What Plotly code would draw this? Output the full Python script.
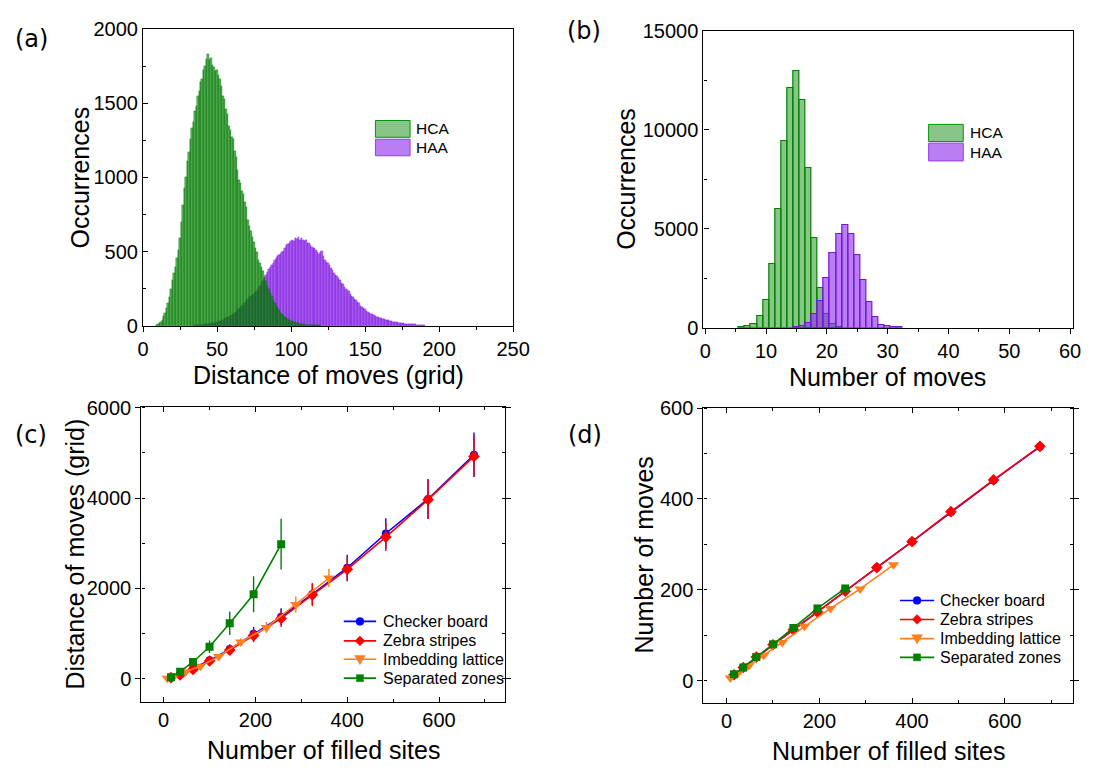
import plotly.graph_objects as go

W, H = 1101, 773
FONT = "Liberation Sans, Arial, sans-serif"

# ---------------- data ----------------
# (a) histogram of distance of moves (bin width 1 grid)
hca_dist_start = 9
hca_dist = [3, 8, 15, 26, 40, 62, 88, 118, 152, 196,
            250, 305, 352, 398, 455, 512, 590, 700, 815, 930,
            1005, 1110, 1170, 1255, 1335, 1370, 1445, 1480, 1550, 1585,
            1645, 1660, 1725, 1750, 1795, 1830, 1790, 1805, 1760, 1745,
            1720, 1725, 1690, 1660, 1615, 1550, 1530, 1460, 1430, 1345,
            1320, 1270, 1255, 1180, 1140, 1050, 985, 965, 910, 885,
            835, 800, 715, 675, 640, 600, 565, 525, 495, 445,
            425, 395, 365, 330, 300, 268, 248, 218, 198, 172,
            150, 134, 116, 104, 88, 76, 67, 57, 48, 42,
            37, 33, 29, 26, 22, 19, 16, 14, 12, 10,
            8, 7, 6, 5, 4, 3, 3, 2, 2, 2,
            1, 1]
haa_dist_start = 35
haa_dist = [2, 3, 3, 4, 5, 6, 7, 8, 10, 11,
            13, 15, 17, 19, 21, 24, 26, 30, 34, 38,
            43, 48, 53, 60, 66, 72, 78, 86, 94, 102,
            112, 122, 132, 142, 155, 165, 178, 190, 200, 208,
            216, 224, 232, 248, 265, 282, 300, 318, 340, 362,
            380, 396, 410, 425, 440, 455, 468, 478, 486, 495,
            505, 525, 545, 552, 558, 568, 578, 572, 590, 585,
            595, 578, 592, 580, 570, 575, 555, 560, 545, 532,
            520, 525, 512, 495, 485, 498, 503, 470, 445, 430,
            425, 410, 390, 372, 355, 342, 335, 322, 305, 290,
            278, 262, 250, 240, 232, 215, 200, 190, 180, 170,
            160, 150, 132, 124, 118, 112, 100, 92, 86, 80,
            75, 71, 66, 60, 56, 52, 48, 45, 42, 40,
            37, 35, 32, 29, 27, 26, 24, 22, 21, 20,
            18, 16, 14, 12, 11, 10, 10, 9, 9, 8,
            7, 6, 4, 3, 2, 1]

# (b) histogram of number of moves
hca_moves_n = [6, 7, 8, 9, 10, 11, 12, 13, 14, 15, 16, 17, 18, 19, 20, 21, 22]
hca_moves = [10, 65, 196, 570, 1420, 3200, 5980, 9440, 12140, 13000, 11520, 8070, 4510, 2010, 690, 180, 40]
haa_moves_n = [15, 16, 17, 18, 19, 20, 21, 22, 23, 24, 25, 26, 27, 28, 29, 30, 31, 32]
haa_moves = [15, 80, 245, 670, 1370, 2530, 3790, 4740, 5180, 4740, 3680, 2390, 1310, 555, 114, 65, 30, 8]

# (c), (d) versus number of filled sites
series_names = ["Checker board", "Zebra stripes", "Imbedding lattice", "Separated zones"]
series_colors = ["#0000ff", "#ff0000", "#ff7f1e", "#008000"]
series_symbols = ["circle", "diamond", "triangle-down", "square"]

cb_sites = [16, 36, 64, 100, 144, 196, 256, 324, 400, 484, 576, 676]
zs_sites = [16, 36, 64, 100, 144, 196, 256, 324, 400, 484, 576, 676]
il_sites = [8, 24, 48, 80, 120, 168, 224, 288, 360]
sz_sites = [16, 36, 64, 100, 144, 196, 256]

cb_dist = [28, 99, 228, 407, 656, 993, 1372, 1871, 2457, 3215, 3979, 4958]
cb_dist_err = [15, 30, 50, 70, 100, 150, 190, 240, 290, 340, 440, 490]
zs_dist = [25, 84, 206, 392, 634, 956, 1336, 1857, 2422, 3136, 3964, 4922]
zs_dist_err = [15, 30, 50, 70, 100, 150, 190, 250, 270, 310, 430, 450]
il_dist = [10, 71, 156, 278, 493, 814, 1136, 1642, 2229]
il_dist_err = [5, 15, 25, 40, 60, 80, 120, 180, 200]
sz_dist = [35, 156, 371, 707, 1228, 1871, 2979]
sz_dist_err = [15, 35, 70, 140, 260, 400, 560]

cb_moves = [13, 29, 52, 79, 112, 152, 198, 249, 306, 371, 441, 515]
zs_moves = [13, 29, 52, 79, 112, 151, 197, 249, 306, 372, 442, 516]
il_moves = [6, 16, 33, 56, 84, 120, 159, 202, 255]
sz_moves = [14, 29, 52, 80, 116, 159, 203]

# ---------------- helpers ----------------
def px(p):
    return p / W


def py(p):
    return 1 - p / H


GREEN_FILL = "rgba(0,135,0,0.6)"
GREEN_LINE = "rgba(0,115,0,0.9)"
PURP_FILL = "rgba(140,40,235,0.65)"
PURP_LINE = "rgba(120,20,220,0.9)"
MSIZE = [8, 9, 10, 8]

fig = go.Figure()

# ---------------- (a) ----------------
haa_x = list(range(haa_dist_start, haa_dist_start + len(haa_dist)))
hca_x = list(range(hca_dist_start, hca_dist_start + len(hca_dist)))
fig.add_trace(go.Bar(x=haa_x, y=haa_dist, width=1, name="HAA", showlegend=False,
                     marker=dict(color=PURP_FILL, line=dict(color=PURP_LINE, width=0.5)),
                     xaxis="x", yaxis="y"))
fig.add_trace(go.Bar(x=hca_x, y=hca_dist, width=1, name="HCA", showlegend=False,
                     marker=dict(color=GREEN_FILL, line=dict(color=GREEN_LINE, width=0.5)),
                     xaxis="x", yaxis="y"))

# ---------------- (b) ----------------
fig.add_trace(go.Bar(x=hca_moves_n, y=hca_moves, width=1, name="HCA", showlegend=False,
                     marker=dict(color="rgba(20,140,20,0.5)", line=dict(color="rgb(0,130,0)", width=1.2)),
                     xaxis="x2", yaxis="y2"))
fig.add_trace(go.Bar(x=haa_moves_n, y=haa_moves, width=1, name="HAA", showlegend=False,
                     marker=dict(color="rgba(140,40,235,0.6)", line=dict(color="rgb(120,20,220)", width=1.2)),
                     xaxis="x2", yaxis="y2"))

# ---------------- (c) ----------------
c_sets = [(cb_sites, cb_dist, cb_dist_err), (zs_sites, zs_dist, zs_dist_err),
          (il_sites, il_dist, il_dist_err), (sz_sites, sz_dist, sz_dist_err)]
for i, (xs, ys, es) in enumerate(c_sets):
    fig.add_trace(go.Scatter(
        x=xs, y=ys, mode="lines+markers", name=series_names[i], showlegend=False,
        line=dict(color=series_colors[i], width=1.6),
        marker=dict(symbol=series_symbols[i], size=MSIZE[i], color=series_colors[i]),
        error_y=dict(type="data", array=es, visible=True, color=series_colors[i], thickness=1.4, width=0),
        xaxis="x3", yaxis="y3"))

# ---------------- (d) ----------------
d_sets = [(cb_sites, cb_moves), (zs_sites, zs_moves), (il_sites, il_moves), (sz_sites, sz_moves)]
for i, (xs, ys) in enumerate(d_sets):
    fig.add_trace(go.Scatter(
        x=xs, y=ys, mode="lines+markers", name=series_names[i], showlegend=False,
        line=dict(color=series_colors[i], width=1.6),
        marker=dict(symbol=series_symbols[i], size=MSIZE[i], color=series_colors[i]),
        xaxis="x4", yaxis="y4"))

# ---------------- axes ----------------
def axis(domain, rng, dtick, minor_dtick, ticks, minor_ticks, mirror, anchor):
    return dict(domain=domain, range=rng, dtick=dtick, tick0=0, ticks=ticks, ticklen=5,
                tickwidth=1.2, tickcolor="black", showline=True, linecolor="black", linewidth=1.3,
                mirror=mirror, showgrid=False, zeroline=False, anchor=anchor, tickformat="d",
                tickfont=dict(family=FONT, size=20, color="black"),
                minor=dict(dtick=minor_dtick, tick0=0, ticks=minor_ticks, ticklen=3,
                           tickwidth=1.2, tickcolor="black", showgrid=False))


fig.update_layout(
    width=W, height=H, margin=dict(l=0, r=0, t=0, b=0),
    paper_bgcolor="white", plot_bgcolor="white",
    barmode="overlay", bargap=0, showlegend=False,
    font=dict(family=FONT, color="black"),
    xaxis=axis([px(140), px(518)], [0, 250], 50, 25, "outside", "outside", True, "y"),
    yaxis=axis([py(324), py(18.7)], [0, 2000], 500, 250, "inside", "inside", True, "x"),
    xaxis2=axis([px(712.3), px(1089.3)], [-0.3, 60.4], 10, 5, "outside", "outside", True, "y2"),
    yaxis2=axis([py(326), py(20.7)], [0, 15000], 5000, 2500, "inside", "inside", True, "x2"),
    xaxis3=axis([px(138.3), px(510)], [-48.4, 744.4], 200, 100, "inside", "inside", "ticks", "y3"),
    yaxis3=axis([py(711), py(407.7)], [-510, 6013], 2000, 1000, "outside", "inside", "ticks", "x3"),
    xaxis4=axis([px(712.3), px(1090)], [-50.1, 747.9], 200, 100, "inside", "inside", "ticks", "y4"),
    yaxis4=axis([py(712.3), py(408.3)], [-49.2, 601], 200, 100, "outside", "inside", "ticks", "x4"),
)

shapes = []
annots = []

# ---------------- legend patches for (a), (b) ----------------
for (x0, x1, rows) in [(377.3, 412.7, [(112.7, 130, "HCA", "rgba(20,140,20,0.5)", "rgb(0,150,0)"),
                                        (132, 149, "HAA", "rgba(140,40,235,0.6)", "rgb(150,60,235)")]),
                       (942.3, 977.7, [(116.7, 134.3, "HCA", "rgba(20,140,20,0.5)", "rgb(0,150,0)"),
                                        (136, 154.3, "HAA", "rgba(140,40,235,0.6)", "rgb(150,60,235)")])]:
    for (y0, y1, label, fill, edge) in rows:
        shapes.append(dict(type="rect", xref="paper", yref="paper", x0=px(x0), x1=px(x1),
                           y0=py(y1), y1=py(y0), fillcolor=fill, line=dict(color=edge, width=1)))
        annots.append(dict(x=px(x1 + 4.5), y=py((y0 + y1) / 2), xref="paper", yref="paper",
                           text=label, showarrow=False, xanchor="left", yanchor="middle",
                           font=dict(family=FONT, size=15.5, color="black")))


# ---------------- legends for (c), (d) drawn as shapes ----------------
def marker_shape(sym, cx, cy, color):
    if sym == "circle":
        r = 4
        return dict(type="circle", xref="paper", yref="paper", x0=px(cx - r), x1=px(cx + r),
                    y0=py(cy + r), y1=py(cy - r), fillcolor=color, line=dict(color=color, width=0.5))
    if sym == "square":
        r = 3.6
        return dict(type="rect", xref="paper", yref="paper", x0=px(cx - r), x1=px(cx + r),
                    y0=py(cy + r), y1=py(cy - r), fillcolor=color, line=dict(color=color, width=0.5))
    if sym == "diamond":
        r = 5
        pts = [(cx, cy - r), (cx + r, cy), (cx, cy + r), (cx - r, cy)]
    else:  # triangle-down
        pts = [(cx - 5.5, cy - 4), (cx + 5.5, cy - 4), (cx, cy + 5.5)]
    path = "M " + " L ".join(f"{px(a):.5f},{py(b):.5f}" for a, b in pts) + " Z"
    return dict(type="path", xref="paper", yref="paper", path=path, fillcolor=color,
                line=dict(color=color, width=0.5))


for (lx0, lx1, tx, rows) in [(345, 378, 383, [628.3, 648.3, 667.3, 686.7]),
                             (913, 948, 952, [606.7, 626.3, 646, 665.3])]:
    for i, ry in enumerate(rows):
        shapes.append(dict(type="line", xref="paper", yref="paper", x0=px(lx0), x1=px(lx1),
                           y0=py(ry), y1=py(ry), line=dict(color=series_colors[i], width=1.6)))
        shapes.append(marker_shape(series_symbols[i], (lx0 + lx1) / 2, ry, series_colors[i]))
        annots.append(dict(x=px(tx), y=py(ry), xref="paper", yref="paper", text=series_names[i],
                           showarrow=False, xanchor="left", yanchor="middle",
                           font=dict(family=FONT, size=16, color="black")))

# axis titles
TFONT = dict(family=FONT, size=25, color="black")
titles = [
    ("Distance of moves (grid)", 329, 375, 0),
    ("Number of moves", 900.7, 377, 0),
    ("Number of filled sites", 324, 761, 0),
    ("Number of filled sites", 901, 762, 0),
    ("Occurrences", 76, 171, -90),
    ("Occurrences", 633, 173, -90),
    ("Distance of moves (grid)", 71, 559, -90),
    ("Number of moves", 652, 560, -90),
]
for (t, x, y, ang) in titles:
    annots.append(dict(x=px(x), y=py(y), xref="paper", yref="paper", text=t, showarrow=False,
                       xanchor="center", yanchor="middle", textangle=ang, font=TFONT))

# panel labels
for (t, x, y) in [("(a)", 26, 29), ("(b)", 590, 21), ("(c)", 26, 436), ("(d)", 591, 436)]:
    annots.append(dict(x=px(x), y=py(y), xref="paper", yref="paper", text=t, showarrow=False,
                       xanchor="center", yanchor="middle",
                       font=dict(family="DejaVu Sans", size=24, color="black")))

fig.update_layout(shapes=shapes, annotations=annots)
fig.write_html("out.html", config={"displayModeBar": False},
               post_script="document.body.style.margin='0';document.body.style.overflow='hidden';")
